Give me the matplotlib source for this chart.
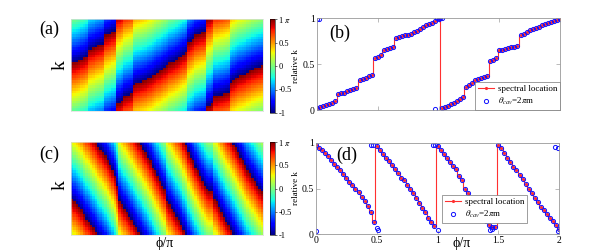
import numpy as np
import matplotlib.pyplot as plt

plt.rcParams['font.family'] = ['Liberation Serif', 'DejaVu Serif']
plt.rcParams['mathtext.fontset'] = 'stix'

# phase sweep phi/pi, one sample every 0.025
phi = np.linspace(0, 2, 81)

# (b) spectral location, relative k
k_b = [0.02, 0.03, 0.04, 0.05, 0.07, 0.08, 0.10, 0.17, 0.18, 0.19,
       0.21, 0.22, 0.23, 0.24, 0.33, 0.34, 0.35, 0.37, 0.38, 0.57,
       0.58, 0.60, 0.65, 0.66, 0.67, 0.68, 0.78, 0.79, 0.80, 0.81,
       0.82, 0.83, 0.85, 0.86, 0.88, 0.90, 0.92, 0.93, 0.95, 0.97,
       0.99, 0.02, 0.03, 0.04, 0.06, 0.08, 0.10, 0.12, 0.14, 0.25,
       0.27, 0.29, 0.33, 0.34, 0.35, 0.36, 0.37, 0.53, 0.54, 0.56,
       0.65, 0.65, 0.66, 0.67, 0.68, 0.69, 0.70, 0.81, 0.83, 0.85,
       0.87, 0.88, 0.89, 0.90, 0.92, 0.93, 0.95, 0.96, 0.97, 0.98,
       0.99]
# extra theta_cav points sitting on the wrapped side
phi_b_extra = [0.0, 0.02, 0.97, 0.99, 1.01, 1.03]
k_b_extra = [0.99, 0.99, 0.01, 1.0, 1.0, 1.0]

# (d) spectral location, relative k
k_d = [0.98, 0.95, 0.92, 0.89, 0.86, 0.81, 0.77, 0.74, 0.70, 0.66,
       0.62, 0.57, 0.54, 0.50, 0.46, 0.41, 0.36, 0.31, 0.24, 0.13,
       0.97, 0.92, 0.88, 0.84, 0.80, 0.76, 0.71, 0.67, 0.62, 0.59,
       0.54, 0.50, 0.45, 0.40, 0.34, 0.29, 0.24, 0.18, 0.13, 0.09,
       0.97, 0.92, 0.88, 0.84, 0.79, 0.75, 0.71, 0.64, 0.59, 0.50,
       0.45, 0.40, 0.34, 0.29, 0.24, 0.19, 0.14, 0.10, 0.08, 0.08,
       0.98, 0.95, 0.89, 0.84, 0.79, 0.74, 0.70, 0.65, 0.60, 0.55,
       0.50, 0.45, 0.40, 0.35, 0.30, 0.26, 0.22, 0.18, 0.14, 0.10,
       0.06]
phi_d_extra = [0.0, 0.45, 0.47, 0.5, 0.51, 0.96, 0.98, 1.0, 1.43, 1.45, 1.97, 1.99, 1.99]
k_d_extra = [0.03, 0.98, 0.98, 0.07, 0.04, 0.98, 0.98, 0.04, 0.04, 0.06, 0.96, 0.94, 0.03]

cbar_ticks = [-1, -0.5, 0, 0.5, 1]
cbar_labels = ['-1', '-0.5', '0', '0.5', r'1 $\pi$']

W, H = 598, 250


def px(x0, y0, x1, y1):
    return [x0 / W, 1 - y1 / H, (x1 - x0) / W, (y1 - y0) / H]


def phase_map(k_rows, ks):
    v = 2 * (k_rows[:, None] - np.asarray(ks)[None, :]) + 1
    return (v + 1) % 2 - 1


def heat_panel(fig, rect, crect, ks, k_lo):
    ax = fig.add_axes(rect)
    k_rows = np.linspace(k_lo, k_lo + 1, 36)
    im = ax.pcolormesh(phi, k_rows, phase_map(k_rows, ks), cmap='jet',
                       vmin=-1, vmax=1, shading='nearest')
    ax.set_xticks([])
    ax.set_yticks([])
    for s in ax.spines.values():
        s.set_color('#dddddd')
        s.set_linewidth(0.5)
    cax = fig.add_axes(crect)
    cb = fig.colorbar(im, cax=cax, ticks=cbar_ticks)
    cb.ax.set_yticklabels(cbar_labels)
    cb.ax.tick_params(labelsize=6, length=1.5, width=0.4, pad=1)
    cb.outline.set_linewidth(0.4)
    cb.set_label('relative k', fontsize=6.5, labelpad=0)
    return ax


def line_panel(fig, rect, ks, pe, ke, xlabels, leg_anchor):
    ax = fig.add_axes(rect)
    ax.plot(phi, ks, '-', color='#ff3030', lw=0.8, drawstyle='steps-mid')
    ax.plot(phi, ks, '.', color='#ff3030', ms=2.5)
    ax.plot([], [], '-', color='#ff3030', lw=0.8, marker='.', ms=2.5,
            label='spectral location')
    ax.plot(np.concatenate([phi, pe]), np.concatenate([ks, ke]), 'o', ls='none',
            mfc='none', mec='#1010ff', ms=3, mew=0.7,
            label=r'$\theta_{cav}$=2$\pi$m')
    ax.set_xlim(0, 2)
    ax.set_ylim(0, 1)
    ax.set_xticks([0, 0.5, 1, 1.5, 2])
    ax.set_yticks([0, 0.5, 1])
    ax.set_yticklabels(['0', '0.5', '1'])
    if xlabels:
        ax.set_xticklabels(['0', '0.5', '1', '1.5', '2'])
    else:
        ax.set_xticklabels([])
    ax.tick_params(direction='in', length=3, width=0.4, top=True, right=True,
                   labelsize=7, pad=1.5, color='#888888')
    for s in ax.spines.values():
        s.set_color('#999999')
        s.set_linewidth(0.6)
    leg = ax.legend(loc='lower right', bbox_to_anchor=leg_anchor, fontsize=6.5,
                    fancybox=False, edgecolor='#777777', framealpha=1,
                    borderpad=0.3, labelspacing=0.3, handlelength=1.8,
                    handletextpad=0.4, borderaxespad=0)
    leg.get_frame().set_linewidth(0.5)
    return ax


fig = plt.figure(figsize=(W / 100, H / 100), dpi=100)

heat_panel(fig, px(71, 19, 263, 111), px(270, 19, 275, 113), k_b, -0.5)
heat_panel(fig, px(71, 142, 263, 235), px(270, 142, 275, 235), k_d, -0.4)
line_panel(fig, px(317, 18, 560, 110), k_b, phi_b_extra, k_b_extra, False, (1, 0))
line_panel(fig, px(316, 143, 559, 234), k_d, phi_d_extra, k_d_extra, True, (0.868, 0.12))

fig.text(49 / W, 1 - 29 / H, '(a)', fontsize=13, ha='center', va='center')
fig.text(49 / W, 1 - 154 / H, '(c)', fontsize=13, ha='center', va='center')
fig.text(340 / W, 1 - 33 / H, '(b)', fontsize=13, ha='center', va='center')
fig.text(347 / W, 1 - 155 / H, '(d)', fontsize=13, ha='center', va='center')
fig.text(60 / W, 1 - 65 / H, 'k', fontsize=14, rotation=90, ha='center', va='center')
fig.text(60 / W, 1 - 185 / H, 'k', fontsize=14, rotation=90, ha='center', va='center')
fig.text(165 / W, 1 - 243 / H, '\u03d5/\u03c0', fontsize=10, ha='center', va='center')
fig.text(462 / W, 1 - 243 / H, '\u03d5/\u03c0', fontsize=10, ha='center', va='center')

plt.savefig('out.png', dpi=100)
